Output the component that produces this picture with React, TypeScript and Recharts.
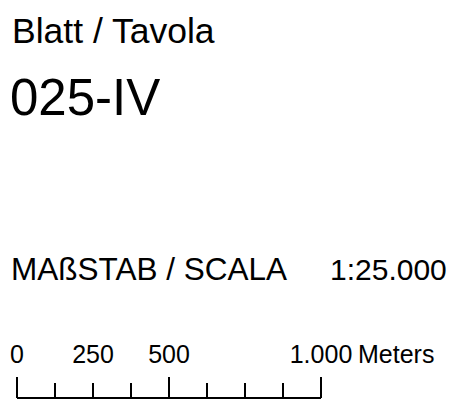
import React from 'react';
import { Customized, Line, LineChart, XAxis, YAxis } from 'recharts';

// Kartenblatt
const SHEET_LABEL = 'Blatt / Tavola';
const SHEET_NUMBER = '025-IV';
const SCALE_LABEL = 'MAßSTAB / SCALA';
const SCALE_RATIO = '1:25.000';

// Maßstabsleiste (Meter)
const BAR_TICKS = [0, 125, 250, 375, 500, 625, 750, 875, 1000];
const MAJOR_TICKS = [0, 500, 1000];
const LABELED_TICKS = [0, 250, 500, 1000];
const TICK_LABELS = ['0', '250', '500', '1.000'];
const UNIT = 'Meters';

const FONT = '"Liberation Sans", Arial, sans-serif';

const barData = BAR_TICKS.map((m) => ({ m }));

function ScaleTick(props: any): React.JSX.Element {
  const { x, y, payload } = props;
  const v = payload.value as number;
  const major = MAJOR_TICKS.includes(v);
  const idx = LABELED_TICKS.indexOf(v);
  const last = v === BAR_TICKS[BAR_TICKS.length - 1];
  return (
    <g>
      <line x1={x} y1={y} x2={x} y2={y - (major ? 21 : 15)} stroke="#000" strokeWidth={2} />
      {idx >= 0 && (
        <text x={x} y={363} textAnchor="middle" fontSize={25} fontFamily={FONT} fill="#000">
          {TICK_LABELS[idx]}
        </text>
      )}
      {last && (
        <text x={x + 37} y={363} textAnchor="start" fontSize={25} fontFamily={FONT} fill="#000">
          {UNIT}
        </text>
      )}
    </g>
  );
}

function Titles(): React.JSX.Element {
  return (
    <g fontFamily={FONT} fill="#000">
      <text x={12} y={43} fontSize={35.5}>{SHEET_LABEL}</text>
      <text x={10} y={115} fontSize={51}>{SHEET_NUMBER}</text>
      <text x={11} y={280} fontSize={31.5}>{SCALE_LABEL}</text>
      <text x={330} y={280} fontSize={30}>{SCALE_RATIO}</text>
    </g>
  );
}

export default function App(): React.JSX.Element {
  return (
    <div style={{ position: 'absolute', left: 0, top: 0, background: '#fff' }}>
      <LineChart
        width={476}
        height={405}
        data={barData}
        margin={{ top: 0, right: 155, bottom: 0, left: 17 }}
      >
        <XAxis
          dataKey="m"
          type="number"
          domain={[0, 1000]}
          ticks={BAR_TICKS}
          height={7}
          tickSize={0}
          tickMargin={0}
          tickLine={false}
          axisLine={{ stroke: '#000', strokeWidth: 2 }}
          tick={<ScaleTick />}
          interval={0}
        />
        <YAxis hide domain={[0, 1]} />
        <Line dataKey="m" stroke="none" dot={false} isAnimationActive={false} />
        <Customized component={<Titles />} />
      </LineChart>
    </div>
  );
}
